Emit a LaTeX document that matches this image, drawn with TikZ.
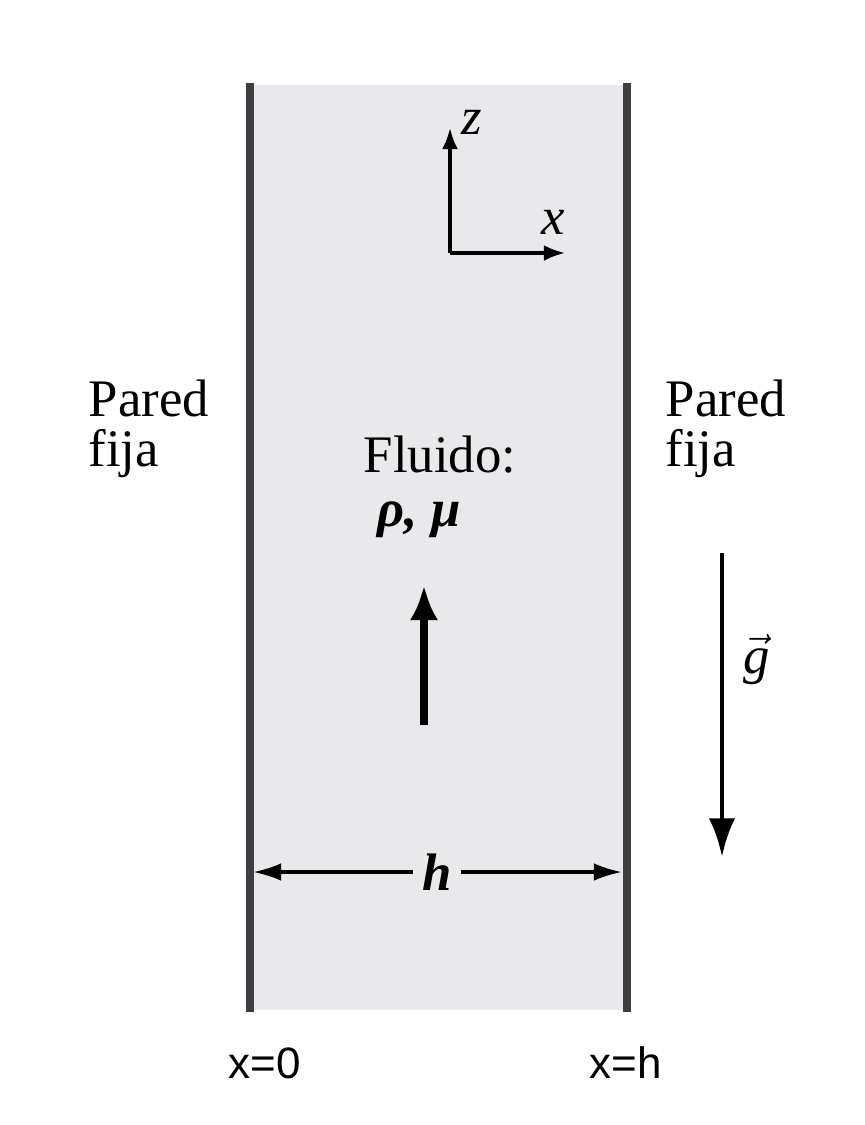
\documentclass[tikz,border=0pt]{standalone}
\usepackage{fontspec}
\setmainfont{Liberation Serif}
\newfontfamily\sidefont{Liberation Sans}
\usetikzlibrary{arrows.meta}
\definecolor{fluidgray}{RGB}{233,233,236}
\definecolor{wallgray}{RGB}{62,62,66}
\begin{document}
\begin{tikzpicture}[x=0.01cm, y=-0.01cm, font=\fontsize{15}{14.5}\selectfont,
	wall/.style={wallgray, line width=2.4pt},
	axis/.style={-{Latex[length=6pt,width=4.5pt]}, line width=0.9pt},
	flow/.style={-{Latex[length=10pt,width=8pt]}, line width=2pt},
	grav/.style={-{Latex[length=11pt,width=7.5pt]}, line width=1.4pt},
	dim/.style={-{Latex[length=8pt,width=5pt]}, line width=0.9pt},
	lbl/.style={inner sep=0pt}]
		\useasboundingbox (0,0) rectangle (864,1125);
		\fill[fluidgray] (250,85) rectangle (627,1010);
		\draw[wall] (250,83) -- (250,1012);
		\draw[wall] (627,83) -- (627,1012);
		\coordinate (o) at (450,253);
		\coordinate (ztip) at (450,128);
		\coordinate (xtip) at (565,253);
		\draw[axis] (o) -- (ztip);
		\draw[axis] (o) -- (xtip);
		\node[lbl] (zlab) at (472,122) {\textit{z}};
		\node[lbl] (xlab) at (553,222) {\textit{x}};
		\node[lbl, align=left, anchor=base west] (paredL) at (88,467) {Pared\\fija};
		\node[lbl, align=left, anchor=base west] (paredR) at (665,467) {Pared\\fija};
		\node[lbl, anchor=base west] (fluid) at (363,472) {Fluido:};
		\node[lbl, anchor=base west] (props) at (377,526) {\textbf{\textit{ρ, μ}}};
		\coordinate (flowtail) at (424,725);
		\coordinate (flowtip) at (424,585);
		\draw[flow] (flowtail) -- (flowtip);
		\coordinate (gtail) at (722,553);
		\coordinate (gtip) at (722,857);
		\draw[grav] (gtail) -- (gtip);
		\node[lbl] (glab) at (757,660) {$\vec{\mbox{\itshape g}}$};
		\coordinate (hleft) at (253,872);
		\coordinate (hright) at (622,872);
		\node[inner sep=2.5pt] (hlab) at (437,872) {\textbf{\textit{h}}};
		\draw[dim] (hlab) -- (hleft);
		\draw[dim] (hlab) -- (hright);
		\node[lbl, font=\sidefont\fontsize{12.5}{14}\selectfont] (xzero) at (265,1063) {x=0};
		\node[lbl, font=\sidefont\fontsize{12.5}{14}\selectfont] (xh) at (626,1063) {x=h};
\end{tikzpicture}
\end{document}
